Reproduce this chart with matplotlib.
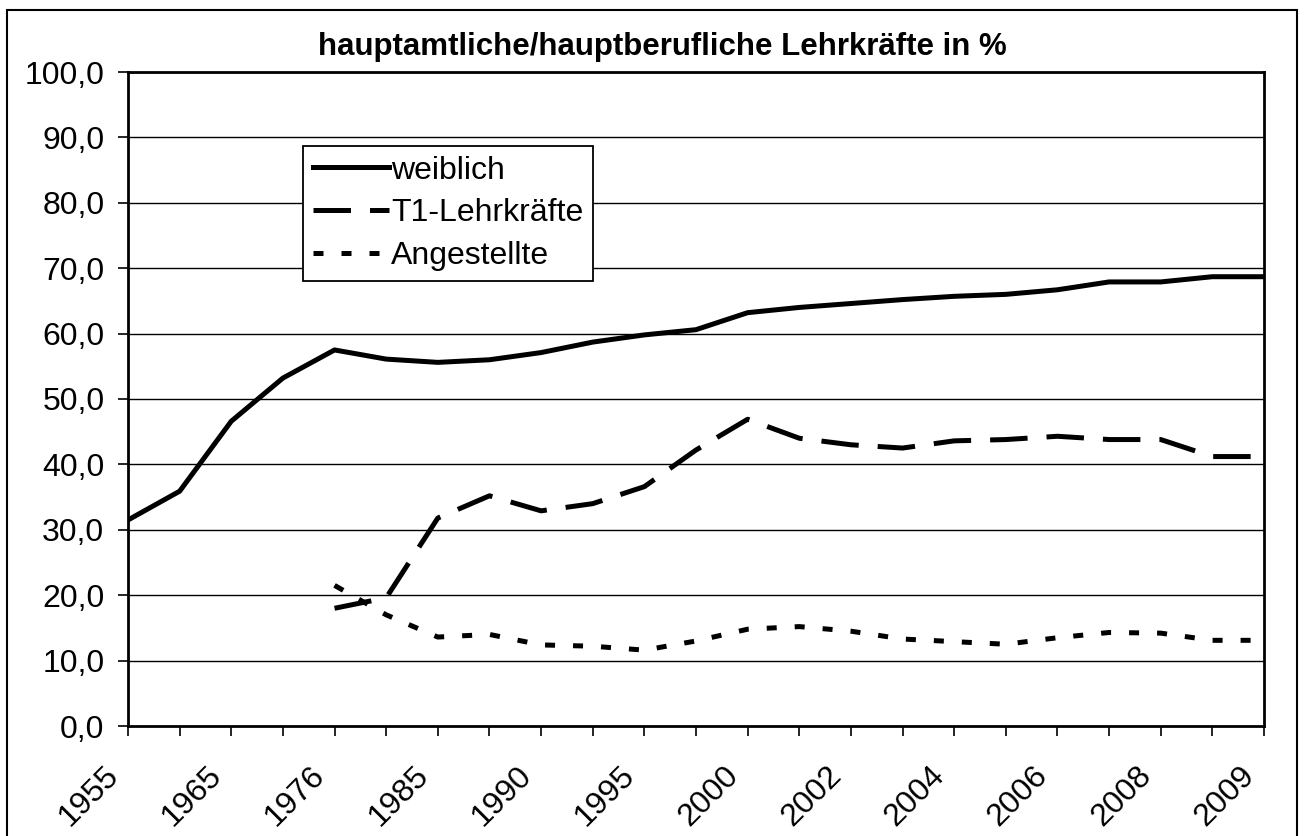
import numpy as np
import matplotlib.pyplot as plt
from matplotlib.patches import Rectangle
from matplotlib.transforms import ScaledTranslation

plt.rcParams['font.family'] = ['Liberation Sans', 'DejaVu Sans']

# categories (only every second one is labelled on the axis)
years = ['1955', '1960', '1965', '1970', '1976', '1980', '1985', '1987', '1990', '1992',
         '1995', '1997', '2000', '2001', '2002', '2003', '2004', '2005', '2006', '2007',
         '2008', '2008/09', '2009']

weiblich = [31.5, 35.9, 46.6, 53.2, 57.5, 56.1, 55.6, 56.0, 57.1, 58.7, 59.8, 60.6,
            63.2, 64.0, 64.6, 65.2, 65.7, 66.0, 66.7, 67.9, 67.9, 68.7, 68.7]
t1_lehrkraefte = [np.nan, np.nan, np.nan, np.nan, 18.0, 19.6, 31.8, 35.2, 32.9, 34.0,
                  36.6, 42.2, 46.9, 44.0, 43.0, 42.5, 43.6, 43.8, 44.3, 43.8, 43.8, 41.2, 41.2]
angestellte = [np.nan, np.nan, np.nan, np.nan, 21.5, 17.0, 13.6, 14.0, 12.4, 12.2,
               11.6, 13.0, 14.8, 15.2, 14.5, 13.3, 12.9, 12.5, 13.5, 14.3, 14.2, 13.1, 13.1]

x = np.arange(len(years))

fig = plt.figure(figsize=(13.06, 8.36), dpi=100)
ax = fig.add_axes([128/1306, 1 - 726/836, (1264 - 128)/1306, (726 - 72)/836])

# outer chart frame
fig.patches.append(Rectangle((7/1306, -0.02), (1297 - 7)/1306, 1.02 - 10/836,
                             transform=fig.transFigure, fill=False,
                             edgecolor='black', linewidth=1.5))

for yv in range(10, 101, 10):
    ax.axhline(yv, color='black', linewidth=1.0, zorder=1)

ax.plot(x, weiblich, color='black', linewidth=3.6, solid_joinstyle='round',
        label='weiblich', zorder=3)
ax.plot(x, t1_lehrkraefte, color='black', linewidth=3.6, linestyle=(0, (7.5, 3.8)),
        dash_capstyle='butt', label='T1-Lehrkräfte', zorder=3)
ax.plot(x, angestellte, color='black', linewidth=3.6, linestyle=(0, (2.0, 3.6)),
        dash_capstyle='butt', label='Angestellte', zorder=3)

ax.set_xlim(0, len(years) - 1)
ax.set_ylim(0, 100)
ax.set_yticks(np.arange(0, 101, 10))
ax.set_yticklabels([f'{v:.1f}'.replace('.', ',') for v in range(0, 101, 10)], fontsize=23)
ax.set_xticks(x)
ax.set_xticklabels([y if i % 2 == 0 else '' for i, y in enumerate(years)],
                   fontsize=23, rotation=45, ha='right', va='center',
                   rotation_mode='anchor')
ax.tick_params(axis='x', direction='out', length=7, width=1.2, pad=14)
ax.tick_params(axis='y', direction='out', length=7, width=1.2, pad=10)
shift = ScaledTranslation(-0.14, -0.16, fig.dpi_scale_trans)
for lab in ax.get_xticklabels():
    lab.set_transform(lab.get_transform() + shift)
for s in ax.spines.values():
    s.set_linewidth(2.0)
    s.set_color('black')

fig.text(0.507, 1 - 47/836, 'hauptamtliche/hauptberufliche Lehrkräfte in %',
         fontsize=22.5, fontweight='bold', ha='center', va='center')

leg = ax.legend(loc='upper left', bbox_to_anchor=(303/1306, 1 - 146/836),
                bbox_transform=fig.transFigure, fontsize=23, handlelength=2.4,
                handletextpad=0.05, labelspacing=0.4, borderpad=0.3,
                fancybox=False, framealpha=1, borderaxespad=0)
leg.get_frame().set_edgecolor('black')
leg.get_frame().set_linewidth(1.3)

fig.savefig('out.png', dpi=100)
